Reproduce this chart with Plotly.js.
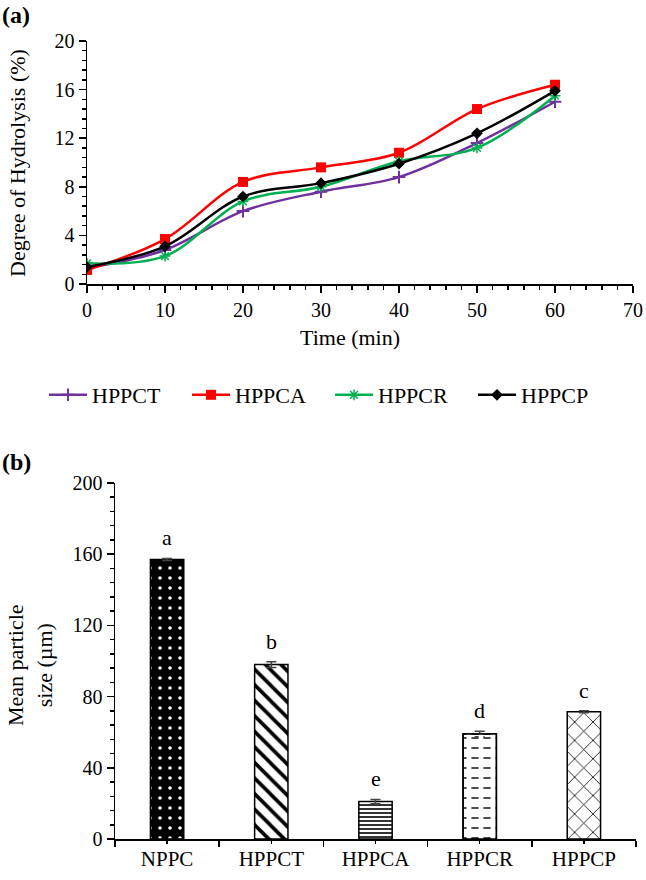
<!DOCTYPE html>
<html>
<head>
<meta charset="utf-8">
<script src="https://cdn.plot.ly/plotly-3.0.1.min.js"></script>
<style>body{margin:0;padding:0;background:#fff;} #chart{width:646px;height:880px;}</style>
</head>
<body>
<div id="chart"></div>
<script>
// ---- data: panel (a) ----
const time = [0, 10, 20, 30, 40, 50, 60];
const hppct = [1.3, 2.8, 6.0, 7.6, 8.8, 11.6, 15.0];
const hppca = [1.15, 3.7, 8.4, 9.6, 10.8, 14.4, 16.4];
const hppcr = [1.7, 2.3, 6.8, 8.0, 10.1, 11.2, 15.5];
const hppcp = [1.4, 3.1, 7.2, 8.3, 9.9, 12.4, 15.9];
const seriesNames = ['HPPCT', 'HPPCA', 'HPPCR', 'HPPCP'];

// ---- data: panel (b) ----
const samples = ['NPPC', 'HPPCT', 'HPPCA', 'HPPCR', 'HPPCP'];
const particleSize = [157, 98, 21, 59, 71.5];
const sizeError = [0.6, 1.6, 1.2, 1.6, 0.6];
const letters = ['a', 'b', 'e', 'd', 'c'];

const FONT = '"Liberation Serif", "Times New Roman", Times, serif';
const W = 646, H = 880;
const px = v => v / W;
const py = v => 1 - v / H;

const lineStyle = [
  {color: '#7030A0', symbol: 'cross-thin', size: 9, lw: 2},
  {color: '#FF0000', symbol: 'square', size: 10, lw: 0},
  {color: '#00B050', symbol: 'asterisk', size: 9, lw: 1.5},
  {color: '#000000', symbol: 'diamond', size: 9, lw: 0}
];
const ys = [hppct, hppca, hppcr, hppcp];

const traces = ys.map((y, i) => ({
  type: 'scatter', mode: 'lines+markers', x: time, y: y, name: seriesNames[i],
  xaxis: 'x', yaxis: 'y',
  line: {color: lineStyle[i].color, width: 2.5, shape: 'spline', smoothing: 1},
  marker: {symbol: lineStyle[i].symbol, size: lineStyle[i].size, color: lineStyle[i].color,
           line: {color: lineStyle[i].color, width: lineStyle[i].lw}}
}));

// bar styles (one trace per bar so each gets its own fill pattern)
const barPatterns = [
  {shape: '.', bg: 'black', fg: 'white', size: 10, solidity: 0.1},
  {shape: '\\', bg: 'white', fg: 'black', size: 11, solidity: 0.33},
  {shape: '-', bg: 'white', fg: 'black', size: 4, solidity: 0.4},
  {shape: '-', bg: 'white', fg: 'black', size: 10, solidity: 0.14, cut: true},
  {shape: 'x', bg: 'white', fg: 'black', size: 13, solidity: 0.12}
];
samples.forEach((s, i) => {
  const p = barPatterns[i];
  traces.push({
    type: 'bar', x: [s], y: [particleSize[i]], xaxis: 'x2', yaxis: 'y2', showlegend: false,
    width: 0.32,
    marker: {
      color: p.bg,
      line: {color: 'black', width: 1.5},
      pattern: {shape: p.shape, bgcolor: p.bg, fgcolor: p.fg, size: p.size, solidity: p.solidity, fillmode: 'replace'}
    },
    error_y: {type: 'data', array: [sizeError[i]], visible: true, color: '#444', thickness: 1.5, width: 5}
  });
  if (p.cut) {
    // white vertical bands over the horizontal lines turn them into dashes
    traces.push({
      type: 'bar', x: [s], y: [particleSize[i]], xaxis: 'x2', yaxis: 'y2', showlegend: false,
      width: 0.32, hoverinfo: 'skip',
      marker: {
        color: 'rgba(0,0,0,0)',
        line: {color: 'black', width: 1.5},
        pattern: {shape: '|', bgcolor: 'rgba(0,0,0,0)', fgcolor: 'white', size: 12, solidity: 0.4, fillmode: 'replace'}
      }
    });
  }
});

const annotations = [
  {text: '<b>(a)</b>', xref: 'paper', yref: 'paper', x: 0, y: 1, xanchor: 'left', yanchor: 'top',
   showarrow: false, font: {family: FONT, size: 24, color: 'black'}},
  {text: '<b>(b)</b>', xref: 'paper', yref: 'paper', x: 0, y: py(447), xanchor: 'left', yanchor: 'top',
   showarrow: false, font: {family: FONT, size: 24, color: 'black'}},
  {text: 'Time (min)', xref: 'paper', yref: 'paper', x: px(350), y: py(338), xanchor: 'center', yanchor: 'middle',
   showarrow: false, font: {family: FONT, size: 22, color: 'black'}},
  {text: 'Degree of Hydrolysis (%)', xref: 'paper', yref: 'paper', x: px(17), y: py(163), textangle: -90,
   xanchor: 'center', yanchor: 'middle', showarrow: false, font: {family: FONT, size: 22, color: 'black'}},
  {text: 'Mean particle<br>size (µm)', xref: 'paper', yref: 'paper', x: px(30), y: py(665), textangle: -90,
   xanchor: 'center', yanchor: 'middle', showarrow: false, font: {family: FONT, size: 22, color: 'black'}}
];
samples.forEach((s, i) => {
  annotations.push({text: letters[i], xref: 'x2', yref: 'y2', x: s, y: particleSize[i] + sizeError[i],
    yanchor: 'bottom', yshift: 6, showarrow: false, font: {family: FONT, size: 22, color: 'black'}});
});

const axisCommon = {
  showgrid: false, zeroline: false, showline: true, linecolor: 'black', linewidth: 1.5,
  ticks: 'outside', tickcolor: 'black', tickwidth: 1.5, ticklen: 7,
  tickfont: {family: FONT, size: 20, color: 'black'}
};

const layout = {
  width: W, height: H, margin: {l: 0, r: 0, t: 0, b: 0},
  paper_bgcolor: 'white', plot_bgcolor: 'white',
  font: {family: FONT, color: 'black'},
  showlegend: true,
  legend: {orientation: 'h', x: px(330), xanchor: 'center', y: py(395), yanchor: 'middle',
           font: {family: FONT, size: 22, color: 'black'}, entrywidth: 90, entrywidthmode: 'pixels',
           itemwidth: 38},
  xaxis: Object.assign({}, axisCommon, {domain: [px(87), px(633)], range: [0, 70], anchor: 'y',
          tickmode: 'linear', tick0: 0, dtick: 10,
          minor: {ticks: 'outside', dtick: 2, ticklen: 4, tickcolor: 'black', tickwidth: 1.5}}),
  yaxis: Object.assign({}, axisCommon, {domain: [py(284), py(41)], range: [0, 20], anchor: 'x',
          tickmode: 'linear', tick0: 0, dtick: 4,
          minor: {ticks: 'outside', dtick: 0.8, ticklen: 4, tickcolor: 'black', tickwidth: 1.5}}),
  xaxis2: Object.assign({}, axisCommon, {domain: [px(115), px(636)], anchor: 'y2', type: 'category',
          categoryorder: 'array', categoryarray: samples,
          tickson: 'boundaries', ticklen: 6, tickfont: {family: FONT, size: 21, color: 'black'}}),
  xaxis3: {overlaying: 'x2', anchor: 'y2', domain: [px(115), px(636)], type: 'category',
          categoryorder: 'array', categoryarray: samples, range: [-0.5, samples.length - 0.5],
          showgrid: false, zeroline: false, showline: false, showticklabels: false,
          ticks: 'outside', ticklen: 4, tickwidth: 1.5, tickcolor: 'black', tickson: 'labels'},
  yaxis2: Object.assign({}, axisCommon, {domain: [py(839), py(483)], range: [0, 200], anchor: 'x2',
          tickmode: 'linear', tick0: 0, dtick: 40,
          minor: {ticks: 'outside', dtick: 8, ticklen: 4, tickcolor: 'black', tickwidth: 1.5}}),
  annotations: annotations,
  barmode: 'overlay'
};

// invisible helper trace so the centre-tick overlay axis is drawn
traces.push({type: 'scatter', mode: 'markers', x: samples, y: particleSize, xaxis: 'x3', yaxis: 'y2',
  marker: {opacity: 0}, showlegend: false, hoverinfo: 'skip'});

Plotly.newPlot('chart', traces, layout, {displayModeBar: false, staticPlot: true});
</script>
</body>
</html>
